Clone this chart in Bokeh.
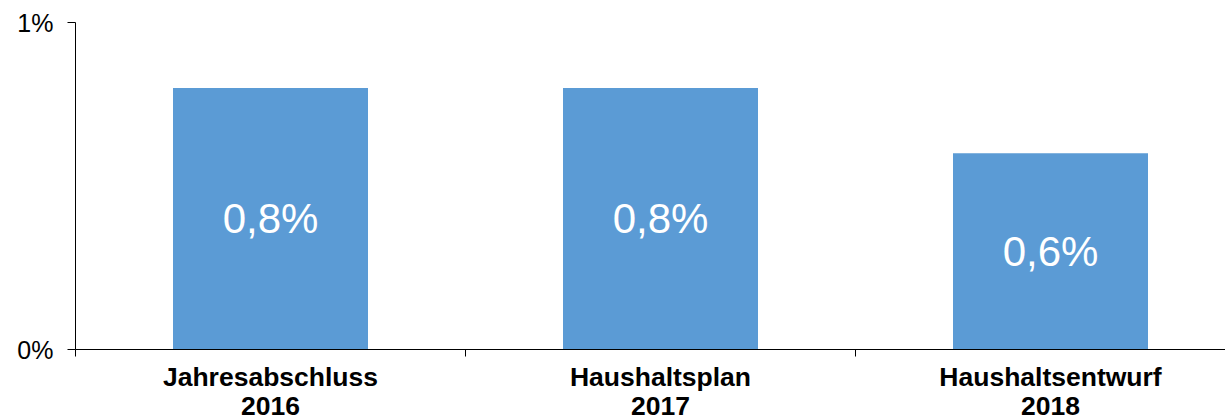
from bokeh.plotting import figure
from bokeh.models import FixedTicker, ColumnDataSource, Range1d
from bokeh.core.properties import value
from bokeh.embed import file_html
from bokeh.resources import INLINE

categories = ["Jahresabschluss\n2016", "Haushaltsplan\n2017", "Haushaltsentwurf\n2018"]
values_pct = [0.8, 0.8, 0.6]
bar_labels = ["0,8%", "0,8%", "0,6%"]
y_ticks = [0, 1]
y_tick_labels = ["0%", "1%"]

centers = [i + 0.5 for i in range(len(categories))]
src = ColumnDataSource(dict(x=centers, top=values_pct,
                            mid=[v / 2 for v in values_pct], label=bar_labels))

FONT = "Liberation Sans"
p = figure(width=1225, frame_height=327, output_backend="svg", toolbar_location=None,
           x_range=Range1d(0, 1150 / 390), y_range=Range1d(0, 1),
           min_border_left=75, min_border_right=0, min_border_top=22, min_border_bottom=10)
p.outline_line_color = None
p.background_fill_color = "white"

p.vbar(x="x", top="top", bottom=0, width=0.5, source=src, fill_color="#5B9BD5", line_color=None)
p.text(x="x", y="mid", text="label", source=src, text_color="white",
       text_font=value(FONT), text_font_size="42px", text_align="center", text_baseline="middle")

# x axis
p.xaxis.ticker = FixedTicker(ticks=centers, minor_ticks=[0, 1, 2, 3])
p.xaxis.major_label_overrides = {c: lab for c, lab in zip(centers, categories)}
p.xaxis.major_tick_out = 0
p.xaxis.major_tick_in = 0
p.xaxis.minor_tick_out = 7
p.xaxis.minor_tick_in = 0
p.xaxis.minor_tick_line_color = "black"
p.xaxis.axis_line_color = "black"
p.xaxis.major_label_text_font = FONT
p.xaxis.major_label_text_font_style = "bold"
p.xaxis.major_label_text_font_size = "26.5px"
p.xaxis.major_label_text_line_height = 0.98
p.xaxis.major_label_text_color = "black"
p.xaxis.major_label_standoff = 5

# y axis
p.yaxis.ticker = FixedTicker(ticks=y_ticks, minor_ticks=[])
p.yaxis.major_label_overrides = {t: lab for t, lab in zip(y_ticks, y_tick_labels)}
p.yaxis.major_tick_out = 8
p.yaxis.major_tick_in = 0
p.yaxis.axis_line_color = "black"
p.yaxis.major_tick_line_color = "black"
p.yaxis.major_label_text_font = FONT
p.yaxis.major_label_text_font_size = "25px"
p.yaxis.major_label_text_color = "black"
p.yaxis.major_label_standoff = 14

p.xgrid.grid_line_color = None
p.ygrid.ticker = FixedTicker(ticks=y_ticks)
p.ygrid.grid_line_color = "#C8C8C8"
p.ygrid.grid_line_width = 2

open("out.html", "w").write(file_html(p, INLINE))
